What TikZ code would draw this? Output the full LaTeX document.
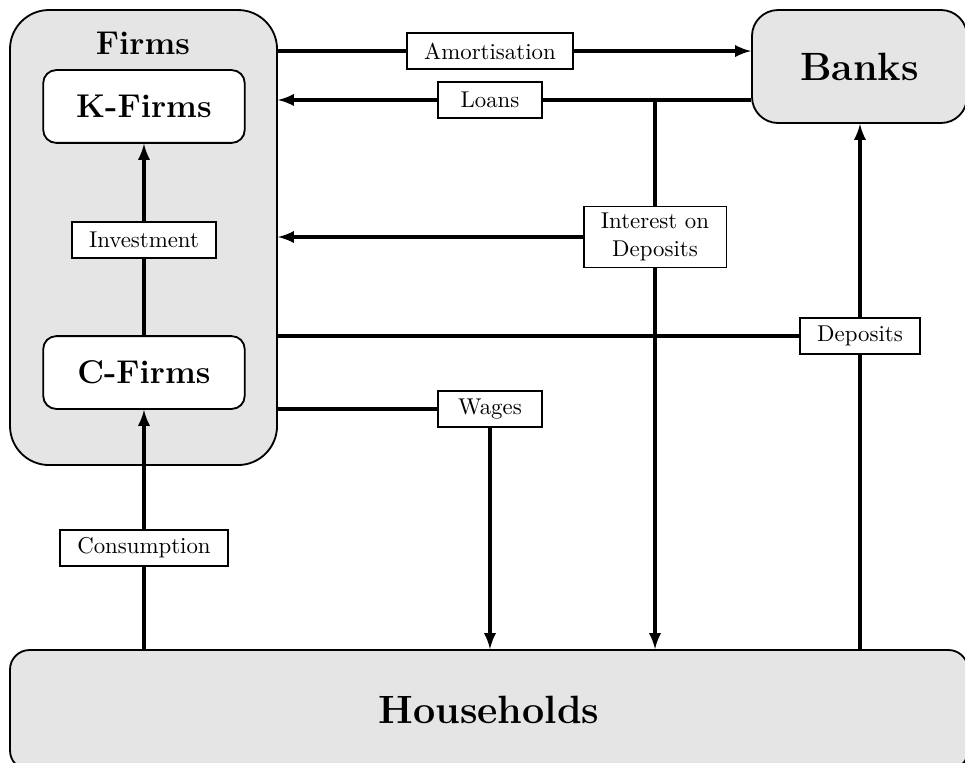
\documentclass[tikz,border=0pt]{standalone}
\usepackage{amsmath}
\usepackage{xcolor}
\usepackage{tikz}
\usetikzlibrary{
  arrows,
  positioning,
  calc}
\tikzset{sector/.style={draw, thick, fill=black!10, rounded corners=0.4cm},
         firm/.style={draw, thick, fill=white, rounded corners=0.2cm, minimum width=3.1cm, minimum height=1.12cm, font=\Large\bfseries},
         flowlabel/.style={draw, semithick, fill=white, inner xsep=7.5pt, inner ysep=3pt, minimum width=1.6cm, minimum height=0.55cm, align=center},
         flow/.style={line width=1.4pt}
        }

\begin{document}
\begin{tikzpicture}[>=latex]
\useasboundingbox (0,0) rectangle (14.846,-11.723);
%Sectors
\node[sector, rounded corners=0.6cm, minimum width=4.108cm, minimum height=7cm] (firms) at (2.208,-3.654) {};
\node[font=\Large\bfseries] (firmstitle) at (2.2,-0.66) {Firms};
\node[firm] (kfirms) at (2.215,-1.638) {K-Firms};
\node[firm] (cfirms) at (2.215,-5.731) {C-Firms};
\node[sector, minimum width=3.308cm, minimum height=1.738cm, font=\LARGE\bfseries] (banks) at (13.223,-1.023) {Banks};
\node[sector, rounded corners=0.3cm, minimum width=14.738cm, minimum height=1.846cm, font=\LARGE\bfseries] (households) at (7.523,-10.923) {Households};

%Flows
\node[flowlabel] (amort) at (7.538,-0.785) {Amortisation};
\node[flowlabel] (loans) at (7.538,-1.538) {Loans};
\node[flowlabel] (intdep) at (10.077,-3.646) {Interest on\\Deposits};
\node[flowlabel] (invest) at (2.215,-3.692) {Investment};
\node[flowlabel] (deposits) at (13.23,-5.169) {Deposits};
\node[flowlabel] (wages) at (7.538,-6.292) {Wages};
\node[flowlabel] (consum) at (2.215,-8.431) {Consumption};

\coordinate (split) at (intdep |- loans);

\draw[flow] (firms.east |- amort) -- (amort);
\draw[flow, ->] (amort) -- (banks.west |- amort);

\draw[flow] (banks.west |- loans) -- (loans);
\draw[flow, ->] (loans) -- (firms.east |- loans);

\draw[flow] (split) -- (intdep);
\draw[flow, ->] (intdep) -- (firms.east |- intdep);
\draw[flow, ->] (intdep) -- (households.north -| intdep);

\draw[flow] (cfirms) -- (invest);
\draw[flow, ->] (invest) -- (kfirms);

\draw[flow] (firms.east |- deposits) -- (deposits);
\draw[flow] (households.north -| deposits) -- (deposits);
\draw[flow, ->] (deposits) -- (banks.south -| deposits);

\draw[flow] (firms.east |- wages) -- (wages);
\draw[flow, ->] (wages) -- (households.north -| wages);

\draw[flow] (households.north -| consum) -- (consum);
\draw[flow, ->] (consum) -- (cfirms);
\end{tikzpicture}
\end{document}
